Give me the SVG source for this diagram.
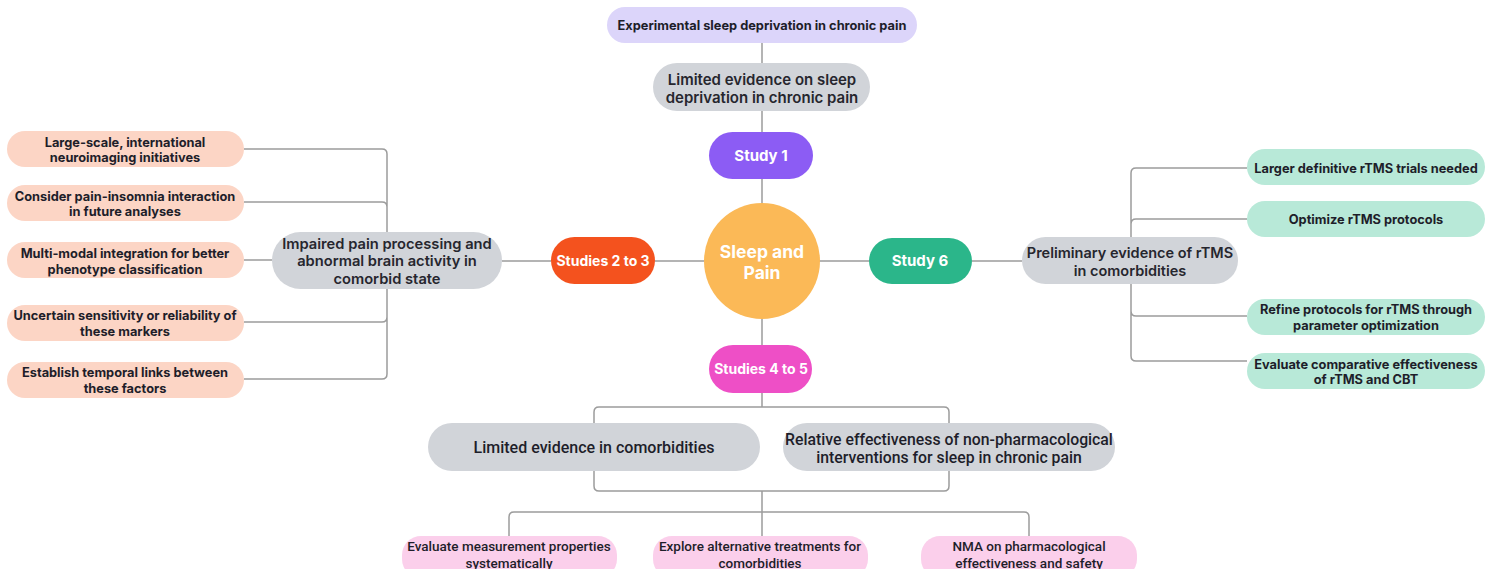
<svg xmlns="http://www.w3.org/2000/svg" width="1494" height="569" viewBox="0 0 1494 569">
<style>
.ln{fill:none;stroke:#9c9c9c;stroke-width:1.5}
text{font-family:Inter,"Noto Sans",sans-serif;text-anchor:middle}
.sm{font-size:12.8px;font-weight:700;fill:#1e1e2a}
.md{font-size:14.7px;font-weight:600;fill:#26262e}
.wt{font-size:14px;font-weight:700;fill:#ffffff}
.cd{font-family:Roboto,"Noto Sans",sans-serif;font-weight:500;fill:#1e1e2a}
.gray{fill:#d1d4d9}
.peach{fill:#fcd5c5}
.mint{fill:#b8e9d8}
.pink{fill:#fbcfeb}
</style>
<rect width="1494" height="569" fill="#ffffff"/>
<g id="connectors">
<path class="ln" d="M762 43V63M762 111V132M762 179V203M762 318V345M762 393V407"/>
<path class="ln" d="M502 261H551M655 261H704M819 261H869M972 261H1022"/>
<path class="ln" d="M244 149H382Q387 149 387 154V374Q387 379 382 379H244M244 202H382Q387 202 387 207M244 322H382Q387 322 387 317M244 260H272"/>
<path class="ln" d="M1247 168H1136Q1131 168 1131 173V356Q1131 361 1136 361H1247M1247 219H1136Q1131 219 1131 224M1247 316H1136Q1131 316 1131 311"/>
<path class="ln" d="M594 423V412Q594 407 599 407H944Q949 407 949 412V423"/>
<path class="ln" d="M594 471V486Q594 491 599 491H944Q949 491 949 486V471M762 491V536"/>
<path class="ln" d="M509 536V517Q509 512 514 512H1024Q1029 512 1029 517V536"/>
</g>
<g id="n-experimental">
<rect x="607" y="7" width="310" height="36" rx="18" fill="#dcd5fa"/>
<text class="sm" x="762" y="29.5">Experimental sleep deprivation in chronic pain</text>
</g>
<g id="n-limited-sleep">
<rect x="653" y="63" width="217" height="48" rx="24" class="gray"/>
<text class="md" x="762" y="84.5" style="font-size:15px">Limited evidence on sleep</text>
<text class="md" x="762" y="102.5" style="font-size:15px">deprivation in chronic pain</text>
</g>
<g id="n-study1">
<rect x="709" y="132" width="104" height="47" rx="23.5" fill="#8c5cf4"/>
<text class="wt" x="761" y="161" style="font-size:15px">Study 1</text>
</g>
<g id="n-center">
<circle cx="762" cy="261" r="58" fill="#fbb957"/>
<text class="wt" x="762" y="258" style="font-size:17.5px">Sleep and</text>
<text class="wt" x="762" y="278.5" style="font-size:17.5px">Pain</text>
</g>
<g id="n-studies23">
<rect x="551" y="237" width="104" height="47" rx="23.5" fill="#f4521e"/>
<text class="wt" x="603" y="266">Studies 2 to 3</text>
</g>
<g id="n-study6">
<rect x="869" y="238" width="103" height="46" rx="23" fill="#2bb68a"/>
<text class="wt" x="920" y="266" style="font-size:15px">Study 6</text>
</g>
<g id="n-studies45">
<rect x="709" y="345" width="103" height="48" rx="24" fill="#ee4fc6"/>
<text class="wt" x="761" y="374">Studies 4 to 5</text>
</g>
<g id="n-impaired">
<rect x="272" y="232" width="230" height="57" rx="28.5" class="gray"/>
<text class="md" x="387" y="248.5">Impaired pain processing and</text>
<text class="md" x="387" y="266">abnormal brain activity in</text>
<text class="md" x="387" y="283.5">comorbid state</text>
</g>
<g id="n-l1">
<rect x="7" y="131" width="237" height="36" rx="18" class="peach"/>
<text class="sm" x="125" y="146.5">Large-scale, international</text>
<text class="sm" x="125" y="161.5">neuroimaging initiatives</text>
</g>
<g id="n-l2">
<rect x="7" y="185" width="237" height="36" rx="18" class="peach"/>
<text class="sm" x="125" y="200.5">Consider pain-insomnia interaction</text>
<text class="sm" x="125" y="215.5">in future analyses</text>
</g>
<g id="n-l3">
<rect x="7" y="242" width="237" height="36" rx="18" class="peach"/>
<text class="sm" x="125" y="257.5">Multi-modal integration for better</text>
<text class="sm" x="125" y="273.5">phenotype classification</text>
</g>
<g id="n-l4">
<rect x="7" y="305" width="237" height="36" rx="18" class="peach"/>
<text class="sm" x="125" y="319.5">Uncertain sensitivity or reliability of</text>
<text class="sm" x="125" y="335.5">these markers</text>
</g>
<g id="n-l5">
<rect x="7" y="362" width="237" height="36" rx="18" class="peach"/>
<text class="sm" x="125" y="376.5">Establish temporal links between</text>
<text class="sm" x="125" y="392.5">these factors</text>
</g>
<g id="n-preliminary">
<rect x="1022" y="237" width="216" height="47" rx="23.5" class="gray"/>
<text class="md" x="1130" y="257.5" style="font-size:14.5px">Preliminary evidence of rTMS</text>
<text class="md" x="1130" y="275.5" style="font-size:14.5px">in comorbidities</text>
</g>
<g id="n-r1">
<rect x="1247" y="149" width="238" height="36" rx="18" class="mint"/>
<text class="sm" x="1366" y="172.5">Larger definitive rTMS trials needed</text>
</g>
<g id="n-r2">
<rect x="1247" y="201" width="238" height="36" rx="18" class="mint"/>
<text class="sm" x="1366" y="223.5">Optimize rTMS protocols</text>
</g>
<g id="n-r3">
<rect x="1247" y="299" width="238" height="36" rx="18" class="mint"/>
<text class="sm" x="1366" y="313.5">Refine protocols for rTMS through</text>
<text class="sm" x="1366" y="329.5">parameter optimization</text>
</g>
<g id="n-r4">
<rect x="1247" y="353" width="238" height="36" rx="18" class="mint"/>
<text class="sm" x="1366" y="368.5">Evaluate comparative effectiveness</text>
<text class="sm" x="1366" y="383.5">of rTMS and CBT</text>
</g>
<g id="n-limited-comorb">
<rect x="428" y="423" width="332" height="48" rx="24" class="gray"/>
<text class="cd" x="594" y="452.5" style="font-size:16px">Limited evidence in comorbidities</text>
</g>
<g id="n-relative">
<rect x="783" y="423" width="332" height="48" rx="24" class="gray"/>
<text class="cd" x="949" y="444.5" style="font-size:15.8px">Relative effectiveness of non-pharmacological</text>
<text class="cd" x="949" y="462.5" style="font-size:15.8px">interventions for sleep in chronic pain</text>
</g>
<g id="n-b1">
<rect x="402" y="536" width="215" height="42" rx="19" class="pink"/>
<text class="cd" x="509" y="551" style="font-size:13.5px">Evaluate measurement properties</text>
<text class="cd" x="509" y="567.5" style="font-size:13.5px">systematically</text>
</g>
<g id="n-b2">
<rect x="653" y="536" width="215" height="42" rx="19" class="pink"/>
<text class="cd" x="760" y="551" style="font-size:13.5px">Explore alternative treatments for</text>
<text class="cd" x="760" y="567.5" style="font-size:13.5px">comorbidities</text>
</g>
<g id="n-b3">
<rect x="921" y="536" width="216" height="42" rx="19" class="pink"/>
<text class="cd" x="1029" y="551" style="font-size:13.5px">NMA on pharmacological</text>
<text class="cd" x="1029" y="567.5" style="font-size:13.5px">effectiveness and safety</text>
</g>
</svg>
